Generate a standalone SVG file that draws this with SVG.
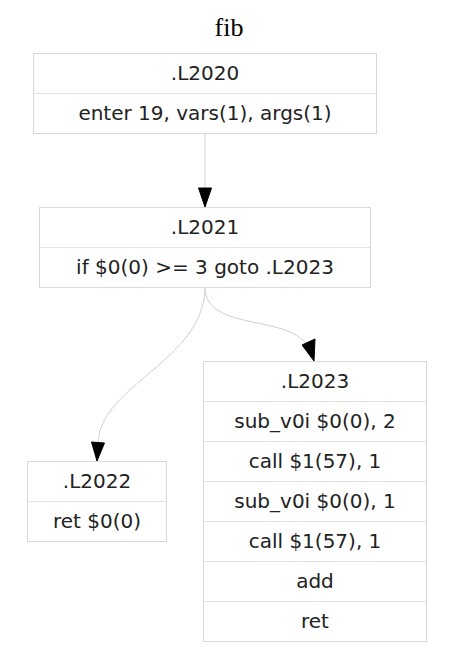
<svg xmlns="http://www.w3.org/2000/svg" width="459" height="662" viewBox="0 0 459 662">
<style>
.box{fill:#fff;stroke:#d9d9d9;stroke-width:1}
.sep{stroke:#e3e3e3;stroke-width:1}
.t{font-family:"DejaVu Sans",Verdana,sans-serif;font-size:20px;fill:#222;text-anchor:middle}
.e{fill:none;stroke:#d0d0d0;stroke-width:1}
.a{fill:#000;stroke:#000}
</style>
<rect width="459" height="662" fill="#fff"/>
<text x="229" y="36" font-family="'Liberation Serif',serif" font-size="26" text-anchor="middle" fill="#000">fib</text>
<g id="edges">
<path class="e" d="M205,133 L205,188"/>
<polygon class="a" points="198.5,188 211.5,188 205,207"/>
<path class="e" d="M205,287 C205,330 280,315 305,342"/>
<polygon class="a" points="302,345 315,339 314,361"/>
<path class="e" d="M205,287 C205,360 100,385 98,443"/>
<polygon class="a" points="91.5,442 104.5,443 97,461"/>
</g>
<g id="L2020">
<rect class="box" x="33.5" y="53.5" width="343" height="80"/>
<line class="sep" x1="34" y1="93.5" x2="376" y2="93.5"/>
<text class="t" x="205" y="80">.L2020</text>
<text class="t" x="205" y="120">enter 19, vars(1), args(1)</text>
</g>
<g id="L2021">
<rect class="box" x="39.5" y="207.5" width="331" height="80"/>
<line class="sep" x1="40" y1="247.5" x2="370" y2="247.5"/>
<text class="t" x="205" y="234">.L2021</text>
<text class="t" x="205" y="274">if $0(0) &gt;= 3 goto .L2023</text>
</g>
<g id="L2022">
<rect class="box" x="27.5" y="461.5" width="139" height="80"/>
<line class="sep" x1="28" y1="501.5" x2="166" y2="501.5"/>
<text class="t" x="97" y="488">.L2022</text>
<text class="t" x="97" y="528">ret $0(0)</text>
</g>
<g id="L2023">
<rect class="box" x="203.5" y="361.5" width="223" height="280"/>
<line class="sep" x1="204" y1="401.5" x2="426" y2="401.5"/>
<line class="sep" x1="204" y1="441.5" x2="426" y2="441.5"/>
<line class="sep" x1="204" y1="481.5" x2="426" y2="481.5"/>
<line class="sep" x1="204" y1="521.5" x2="426" y2="521.5"/>
<line class="sep" x1="204" y1="561.5" x2="426" y2="561.5"/>
<line class="sep" x1="204" y1="601.5" x2="426" y2="601.5"/>
<text class="t" x="315" y="388">.L2023</text>
<text class="t" x="315" y="428">sub_v0i $0(0), 2</text>
<text class="t" x="315" y="468">call $1(57), 1</text>
<text class="t" x="315" y="508">sub_v0i $0(0), 1</text>
<text class="t" x="315" y="548">call $1(57), 1</text>
<text class="t" x="315" y="588">add</text>
<text class="t" x="315" y="628">ret</text>
</g>
</svg>
